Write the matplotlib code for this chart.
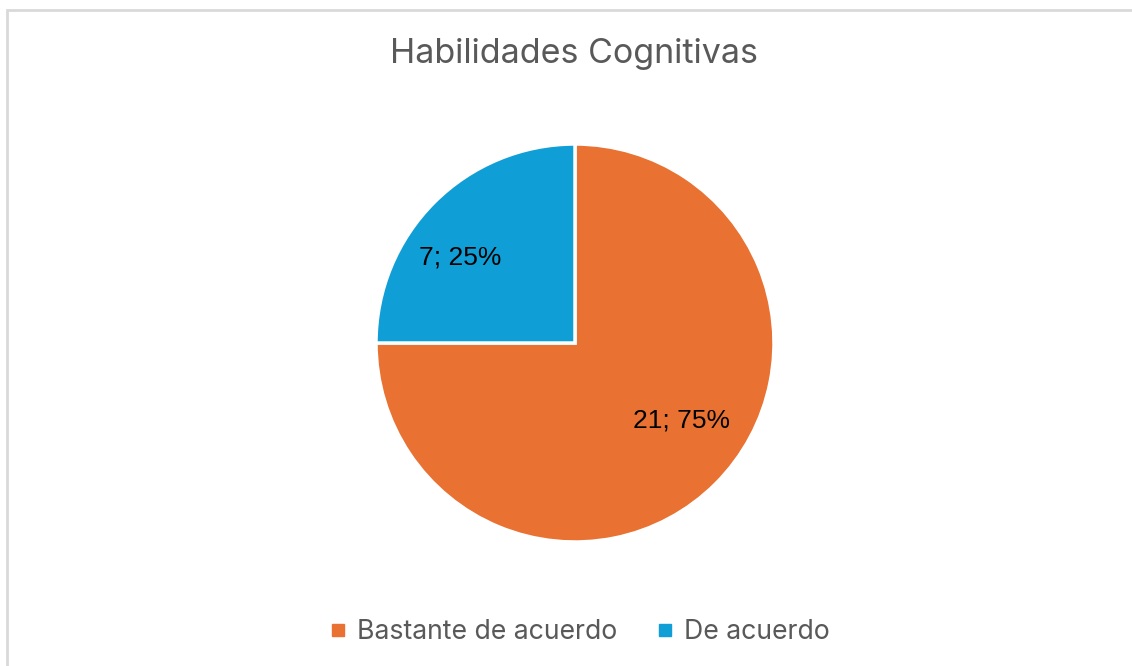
import matplotlib
matplotlib.use("Agg")
import matplotlib.pyplot as plt
from matplotlib.patches import Rectangle
from matplotlib.lines import Line2D

categories = ["Bastante de acuerdo", "De acuerdo"]
counts = [21, 7]
colors = ["#E97132", "#0F9ED5"]
title = "Habilidades Cognitivas"

# data label placement (Excel "best fit"), in pie radius units
label_pos = [(0.535, -0.39), (-0.575, 0.43)]

W, H = 1132, 666
fig = plt.figure(figsize=(W / 100, H / 100), dpi=100)
fig.patch.set_facecolor("white")

# light grey chart frame (Excel style)
fig.patches.append(Rectangle((7 / W, -0.05), 1.2, (H - 10) / H + 0.05,
                             transform=fig.transFigure, fill=False,
                             edgecolor="#D9D9D9", linewidth=2))

cx, cy, r = 575, H - 343, 199
ax = fig.add_axes([(cx - r) / W, (cy - r) / H, 2 * r / W, 2 * r / H])
total = sum(counts)
wedges, texts, autotexts = ax.pie(
    counts, colors=colors, startangle=90, counterclock=False,
    wedgeprops=dict(edgecolor="white", linewidth=2.5),
    autopct=lambda p: f"{round(p * total / 100)}; {p:.0f}%",
    pctdistance=0.68,
    textprops=dict(fontsize=19, color="black", family="Liberation Sans"))
for t, pos in zip(autotexts, label_pos):
    t.set_position(pos)
ax.set_xlim(-1, 1)
ax.set_ylim(-1, 1)

fig.text(574 / W, (H - 54) / H, title, ha="center", va="center",
         fontsize=24.5, color="#595959", family="Inter")

handles = [Line2D([], [], marker="s", linestyle="", markersize=9,
                  markerfacecolor=c, markeredgecolor=c) for c in colors]
fig.legend(handles, categories, loc="center", bbox_to_anchor=(580 / W, 34 / H),
           ncol=2, frameon=False, handlelength=0.6, handletextpad=0.4,
           columnspacing=1.5,
           prop=dict(family="Inter", size=19.2), labelcolor="#595959")

fig.savefig("out.png", dpi=100)
